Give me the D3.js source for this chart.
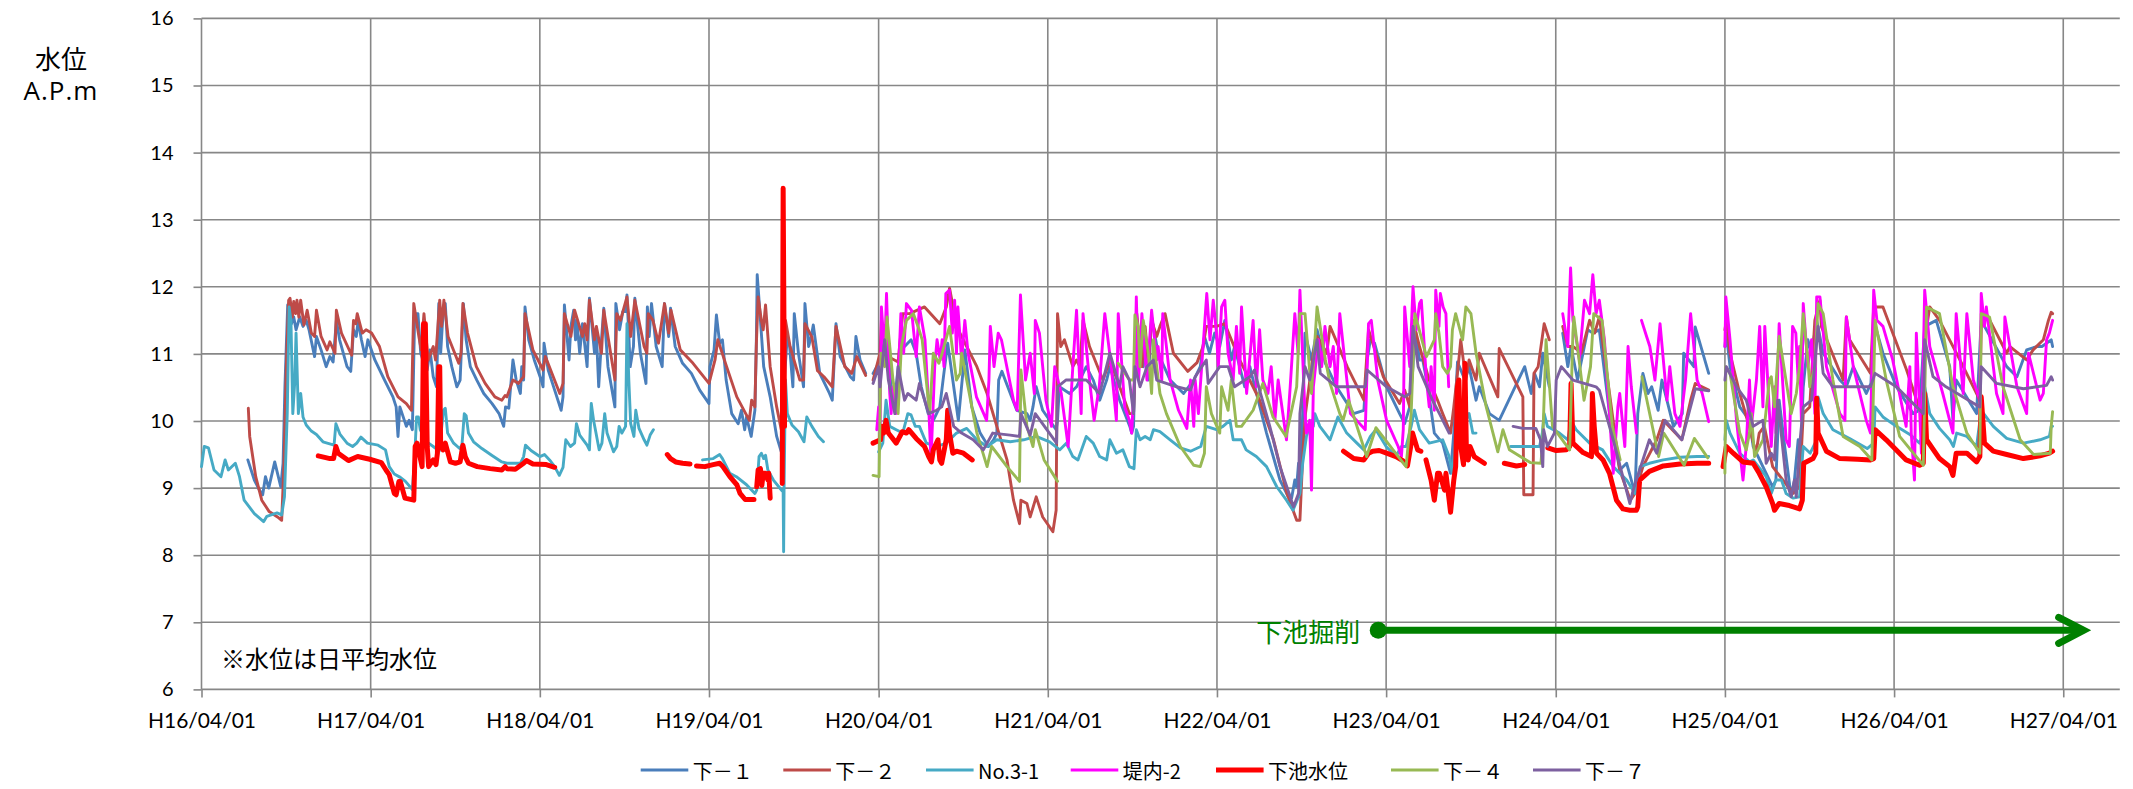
<!DOCTYPE html>
<html><head><meta charset="utf-8">
<script src="https://cdn.jsdelivr.net/npm/d3@7"></script>
<style>body{margin:0;background:#fff}svg{display:block}</style>
</head><body>
<svg id="c" width="2133" height="789"></svg>
<script>
// ---------- data ----------
const yearTicks = ["2004-04-01","2005-04-01","2006-04-01","2007-04-01","2008-04-01","2009-04-01","2010-04-01","2011-04-01","2012-04-01","2013-04-01","2014-04-01","2015-04-01"];
const tickLabels = ["H16/04/01","H17/04/01","H18/04/01","H19/04/01","H20/04/01","H21/04/01","H22/04/01","H23/04/01","H24/04/01","H25/04/01","H26/04/01","H27/04/01"];
const yTicks = [6,7,8,9,10,11,12,13,14,15,16];
const seriesNames = ["下－１","下－２","No.3-1","堤内-2","下池水位","下－４","下－７"];
const seriesColors = ["#4A7EBB","#BE4B48","#46AAC5","#FF00FF","#FF0000","#98B954","#7D60A0"];
const annotationText = "※水位は日平均水位";
const excavationLabel = "下池掘削";
const excavationStart = "2011-03-15", excavationEnd = "2015-05-15", excavationLevel = 6.88;

const s1 = [["2004-07-10",9.42],["2004-07-24",9.12],["2004-08-04",8.97],["2004-08-11",8.9],["2004-08-17",9.17],["2004-08-24",9.0],["2004-09-06",9.39],["2004-09-19",9.02],["2004-09-24",9.37],["2004-09-28",10.51],["2004-10-04",11.73],["2004-10-08",11.7],["2004-10-12",11.45],["2004-10-17",11.55],["2004-10-22",11.36],["2004-10-30",11.55],["2004-11-06",11.41],["2004-11-13",11.5],["2004-11-19",11.36],["2004-12-01",10.96],["2004-12-05",11.26],["2004-12-15",11.06],["2004-12-26",10.81],["2005-01-03",10.96],["2005-01-10",10.88],["2005-01-17",11.5],["2005-01-24",11.21],["2005-02-09",10.81],["2005-02-17",10.74],["2005-02-23",11.36],["2005-03-01",11.26],["2005-03-05",11.5],["2005-03-12",11.21],["2005-03-20",10.96],["2005-03-26",11.21],["2005-04-10",10.91],["2005-05-01",10.61],["2005-05-19",10.36],["2005-05-26",10.21],["2005-05-30",9.77],["2005-06-03",10.21],["2005-06-17",9.92],["2005-06-23",10.01],["2005-06-30",9.87],["2005-07-05",11.6],["2005-07-12",11.6],["2005-07-18",11.01],["2005-07-27",10.81],["2005-08-01",10.76],["2005-08-07",11.06],["2005-08-14",10.66],["2005-08-21",10.51],["2005-08-26",11.75],["2005-08-30",11.01],["2005-09-05",11.7],["2005-09-09",11.75],["2005-09-14",11.11],["2005-09-23",10.81],["2005-10-04",10.51],["2005-10-11",10.61],["2005-10-18",11.75],["2005-10-24",11.21],["2005-11-02",10.81],["2005-11-16",10.61],["2005-12-01",10.41],["2005-12-19",10.26],["2006-01-03",10.11],["2006-01-13",9.92],["2006-01-17",10.21],["2006-01-24",10.19],["2006-02-02",10.91],["2006-02-09",10.61],["2006-02-18",10.41],["2006-02-21",10.81],["2006-02-25",10.61],["2006-02-28",11.7],["2006-03-08",11.21],["2006-03-20",10.91],["2006-04-04",10.61],["2006-04-08",10.51],["2006-04-10",11.16],["2006-04-19",10.76],["2006-05-03",10.46],["2006-05-17",10.16],["2006-05-21",10.36],["2006-05-24",11.73],["2006-06-03",10.91],["2006-06-07",11.41],["2006-06-13",11.65],["2006-06-17",11.21],["2006-06-20",11.5],["2006-06-26",11.01],["2006-07-02",11.45],["2006-07-12",10.81],["2006-07-17",11.83],["2006-07-28",11.01],["2006-08-01",11.31],["2006-08-06",10.51],["2006-08-12",11.21],["2006-08-17",11.68],["2006-08-26",10.81],["2006-09-10",10.21],["2006-09-12",11.75],["2006-09-20",11.36],["2006-09-27",11.63],["2006-10-03",11.63],["2006-10-06",11.88],["2006-10-13",10.81],["2006-10-20",11.11],["2006-10-23",11.83],["2006-11-04",11.01],["2006-11-16",10.56],["2006-11-19",11.7],["2006-11-23",11.26],["2006-11-28",11.75],["2006-12-08",11.11],["2006-12-21",10.81],["2006-12-26",11.75],["2007-01-04",11.26],["2007-01-08",11.68],["2007-01-18",11.11],["2007-02-03",10.86],["2007-02-22",10.71],["2007-03-12",10.46],["2007-04-01",10.26],["2007-04-03",10.81],["2007-04-12",11.06],["2007-04-17",11.58],["2007-04-24",11.16],["2007-04-30",11.21],["2007-05-08",10.61],["2007-05-20",10.11],["2007-06-03",9.96],["2007-06-10",10.16],["2007-06-17",9.87],["2007-06-21",10.06],["2007-07-01",9.77],["2007-07-09",10.16],["2007-07-12",11.11],["2007-07-14",12.18],["2007-07-19",11.7],["2007-07-28",10.81],["2007-08-11",10.36],["2007-08-25",9.77],["2007-09-04",9.54],["2007-09-08",9.62],["2007-09-11",10.66],["2007-09-17",11.26],["2007-09-22",11.11],["2007-09-29",10.51],["2007-10-02",11.6],["2007-10-11",11.01],["2007-10-22",10.51],["2007-10-25",11.75],["2007-11-02",11.11],["2007-11-09",11.31],["2007-11-12",11.43],["2007-11-26",10.71],["2007-12-17",10.41],["2007-12-23",10.31],["2007-12-31",11.45],["2008-01-09",10.96],["2008-01-31",10.66],["2008-02-07",10.61],["2008-02-12",11.26],["2008-02-21",10.91],["2008-03-04",10.71],["2008-03-12",null],["2008-03-20",10.71],["2008-04-01",10.86],["2008-04-07",11.01],["2008-04-18",11.31],["2008-04-28",10.51],["2008-05-06",10.31],["2008-05-11",10.66],["2008-05-20",11.21],["2008-05-27",11.11],["2008-06-10",11.21],["2008-06-21",11.01],["2008-07-02",10.51],["2008-07-17",10.11],["2008-07-28",10.01],["2008-08-11",10.21],["2008-08-18",10.61],["2008-08-28",11.16],["2008-09-08",10.61],["2008-09-20",10.01],["2008-10-01",10.81],["2008-10-04",11.06],["2008-10-19",10.21],["2008-11-06",9.82],["2008-11-24",9.62],["2008-12-05",9.72],["2008-12-12",9.82],["2008-12-16",10.61],["2008-12-23",10.74],["2008-12-30",10.61],["2009-01-24",10.16],["2009-02-15",10.11],["2009-02-22",10.01],["2009-02-28",10.21],["2009-03-07",10.51],["2009-03-21",10.16],["2009-04-19",9.87],["2009-04-22",10.01],["2009-04-26",10.51],["2009-05-18",10.41],["2009-06-02",10.51],["2009-06-23",10.81],["2009-07-08",10.61],["2009-07-22",10.31],["2009-08-06",10.61],["2009-08-13",10.81],["2009-09-03",10.31],["2009-09-25",9.92],["2009-09-29",9.82],["2009-10-03",9.92],["2009-10-09",11.6],["2009-10-17",10.91],["2009-10-24",10.81],["2009-10-28",11.11],["2009-11-04",10.61],["2009-11-11",11.55],["2009-11-25",11.01],["2009-12-21",10.61],["2010-01-19",10.41],["2010-02-10",10.61],["2010-02-24",10.81],["2010-03-05",11.26],["2010-03-16",11.01],["2010-03-27",11.31],["2010-04-07",11.11],["2010-04-18",11.5],["2010-05-02",10.91],["2010-05-09",11.11],["2010-05-31",10.51],["2010-06-11",10.81],["2010-06-18",10.61],["2010-07-17",9.82],["2010-08-15",9.12],["2010-09-02",8.87],["2010-09-09",8.85],["2010-09-16",9.12],["2010-09-20",9.02],["2010-09-24",9.37],["2010-09-27",8.87],["2010-10-03",10.11],["2010-10-08",11.31],["2010-10-22",10.91],["2010-11-03",11.36],["2010-11-21",10.86],["2010-12-15",10.51],["2011-01-21",10.11],["2011-02-12",10.16],["2011-02-19",10.91],["2011-02-26",11.21],["2011-03-07",11.16],["2011-04-02",10.51],["2011-04-30",10.11],["2011-05-11",9.96],["2011-05-22",10.21],["2011-05-29",10.81],["2011-06-02",11.41],["2011-06-12",10.91],["2011-06-19",10.91],["2011-06-30",10.51],["2011-07-14",9.82],["2011-08-01",9.67],["2011-08-18",9.22],["2011-08-25",9.82],["2011-09-02",10.88],["2011-09-18",10.61],["2011-09-27",10.81],["2011-10-12",10.31],["2011-10-19",10.51],["2011-11-10",10.11],["2011-12-01",10.01],["2012-01-25",10.81],["2012-02-08",10.41],["2012-02-15",10.71],["2012-02-26",10.51],["2012-03-04",11.01],["2012-03-18",10.51],["2012-04-02",null],["2012-04-16",11.31],["2012-04-27",10.81],["2012-05-04",11.11],["2012-05-18",10.61],["2012-06-09",11.36],["2012-06-20",11.31],["2012-07-04",11.36],["2012-07-26",10.11],["2012-08-17",9.27],["2012-09-01",9.37],["2012-09-19",8.92],["2012-09-25",10.11],["2012-10-06",10.71],["2012-10-17",10.41],["2012-10-25",10.51],["2012-11-08",10.16],["2012-11-16",10.61],["2012-12-11",9.92],["2012-12-30",10.11],["2013-01-02",11.01],["2013-01-24",10.81],["2013-01-27",11.4],["2013-02-25",10.71],["2013-03-10",null],["2013-04-01",11.11],["2013-04-04",11.31],["2013-04-12",10.81],["2013-05-03",10.21],["2013-05-24",10.01],["2013-06-01",9.62],["2013-07-13",9.02],["2013-07-20",9.12],["2013-07-27",10.31],["2013-08-08",9.62],["2013-08-22",8.87],["2013-08-29",9.12],["2013-09-06",9.72],["2013-09-11",9.42],["2013-09-17",10.51],["2013-09-27",11.21],["2013-10-05",11.01],["2013-10-16",11.5],["2013-10-30",11.01],["2013-12-05",10.61],["2013-12-19",10.51],["2014-01-03",10.81],["2014-01-31",10.41],["2014-02-10",10.56],["2014-02-16",11.5],["2014-03-08",11.01],["2014-04-06",10.51],["2014-05-12",10.11],["2014-05-26",10.16],["2014-06-06",11.41],["2014-07-01",11.5],["2014-07-30",10.81],["2014-08-06",10.01],["2014-08-13",10.61],["2014-09-26",10.11],["2014-10-06",11.5],["2014-11-30",10.81],["2014-12-22",10.66],["2015-01-12",11.06],["2015-02-03",11.11],["2015-02-14",11.11],["2015-03-06",11.21],["2015-03-09",11.11]];

const s2 = [["2004-07-11",10.19],["2004-07-14",9.77],["2004-07-27",9.17],["2004-08-09",8.82],["2004-08-25",8.65],["2004-09-12",8.57],["2004-09-21",8.52],["2004-09-26",9.37],["2004-10-01",10.81],["2004-10-06",11.8],["2004-10-09",11.83],["2004-10-14",11.55],["2004-10-17",11.78],["2004-10-21",11.6],["2004-10-24",11.8],["2004-10-28",11.55],["2004-11-01",11.8],["2004-11-08",11.43],["2004-11-15",11.65],["2004-11-24",11.31],["2004-12-01",11.26],["2004-12-05",11.65],["2004-12-15",11.26],["2004-12-28",11.06],["2005-01-03",11.18],["2005-01-14",11.01],["2005-01-17",11.65],["2005-01-28",11.31],["2005-02-19",10.98],["2005-02-23",11.5],["2005-02-28",11.45],["2005-03-03",11.6],["2005-03-14",11.31],["2005-03-22",11.36],["2005-04-03",11.31],["2005-04-20",11.11],["2005-05-08",10.66],["2005-05-30",10.36],["2005-06-17",10.26],["2005-06-28",10.16],["2005-07-03",11.75],["2005-07-14",11.26],["2005-07-19",11.06],["2005-07-25",11.6],["2005-08-03",10.91],["2005-08-14",11.11],["2005-08-19",10.91],["2005-08-25",11.5],["2005-08-28",11.8],["2005-09-01",11.41],["2005-09-06",11.8],["2005-09-15",11.26],["2005-10-08",10.86],["2005-10-13",11.01],["2005-10-17",11.75],["2005-10-27",11.31],["2005-11-15",10.81],["2005-12-04",10.56],["2005-12-25",10.36],["2006-01-09",10.31],["2006-01-16",10.38],["2006-01-20",10.36],["2006-02-02",10.61],["2006-02-14",10.56],["2006-02-25",10.66],["2006-02-28",11.6],["2006-03-17",11.06],["2006-04-08",10.76],["2006-04-13",10.96],["2006-05-14",10.41],["2006-05-21",10.56],["2006-05-24",11.6],["2006-06-07",11.26],["2006-06-15",11.65],["2006-07-02",11.26],["2006-07-07",11.45],["2006-07-12",11.21],["2006-07-17",11.8],["2006-07-28",11.21],["2006-08-01",11.41],["2006-08-12",11.01],["2006-08-17",11.65],["2006-09-10",10.61],["2006-09-14",11.6],["2006-09-22",11.5],["2006-10-06",11.85],["2006-10-14",11.26],["2006-10-23",11.8],["2006-11-12",11.11],["2006-11-18",11.01],["2006-11-21",11.6],["2006-12-01",11.5],["2006-12-13",11.16],["2006-12-26",11.75],["2007-01-04",11.31],["2007-01-09",11.65],["2007-01-29",11.06],["2007-02-23",10.88],["2007-04-01",10.56],["2007-04-14",10.91],["2007-04-20",11.21],["2007-05-09",10.81],["2007-05-31",10.36],["2007-06-27",10.01],["2007-07-02",10.31],["2007-07-09",10.21],["2007-07-12",11.11],["2007-07-16",11.85],["2007-07-23",11.5],["2007-07-27",11.36],["2007-08-01",11.73],["2007-08-11",10.81],["2007-08-25",10.21],["2007-09-04",9.87],["2007-09-08",9.96],["2007-09-13",11.5],["2007-09-23",11.11],["2007-10-14",10.61],["2007-10-22",10.61],["2007-10-25",11.45],["2007-11-09",11.25],["2007-11-21",10.75],["2007-12-05",10.66],["2007-12-23",10.51],["2007-12-31",11.41],["2008-01-19",10.81],["2008-02-03",10.71],["2008-02-14",10.96],["2008-03-04",10.68],["2008-03-12",null],["2008-03-20",10.61],["2008-04-04",11.01],["2008-04-07",11.5],["2008-04-21",10.96],["2008-05-13",10.88],["2008-05-23",11.6],["2008-06-07",11.6],["2008-07-09",11.7],["2008-08-11",11.45],["2008-08-25",11.7],["2008-09-01",11.98],["2008-09-06",11.8],["2008-09-16",11.41],["2008-10-08",11.11],["2008-10-30",10.81],["2008-11-21",10.41],["2008-12-12",9.92],["2009-01-03",9.42],["2009-01-17",8.82],["2009-01-30",8.47],["2009-02-02",8.82],["2009-02-15",8.77],["2009-02-22",8.57],["2009-03-07",8.87],["2009-03-21",8.57],["2009-04-12",8.35],["2009-04-19",8.67],["2009-04-22",11.6],["2009-04-29",11.11],["2009-05-07",11.21],["2009-05-25",10.81],["2009-06-02",10.91],["2009-06-09",10.81],["2009-06-16",11.5],["2009-06-30",11.11],["2009-07-29",10.61],["2009-08-13",10.91],["2009-09-24",10.11],["2009-10-03",10.11],["2009-10-10",11.6],["2009-10-21",10.81],["2009-10-28",11.41],["2009-11-04",10.86],["2009-11-11",11.5],["2009-11-22",11.26],["2009-11-29",11.41],["2009-12-10",11.6],["2009-12-28",11.01],["2010-01-28",10.74],["2010-02-17",10.87],["2010-03-02",11.11],["2010-03-09",11.41],["2010-03-31",11.41],["2010-04-18",11.45],["2010-05-20",10.91],["2010-07-02",10.31],["2010-08-01",9.72],["2010-08-30",8.92],["2010-09-20",8.52],["2010-09-27",8.52],["2010-10-04",9.62],["2010-10-09",10.11],["2010-10-26",11.01],["2010-11-03",11.26],["2010-11-24",11.01],["2010-12-01",11.41],["2011-01-07",10.81],["2011-02-12",10.31],["2011-02-22",11.36],["2011-03-26",10.66],["2011-04-30",10.26],["2011-05-11",10.46],["2011-05-22",10.21],["2011-05-29",11.5],["2011-06-12",11.11],["2011-07-03",10.61],["2011-07-21",10.31],["2011-08-01",10.11],["2011-08-18",9.82],["2011-08-25",10.21],["2011-09-02",10.71],["2011-09-09",11.21],["2011-09-20",10.61],["2011-09-27",10.91],["2011-10-12",10.61],["2011-10-19",11.01],["2011-11-28",10.36],["2011-12-01",11.08],["2012-01-21",10.36],["2012-01-23",8.9],["2012-02-12",8.9],["2012-02-14",10.71],["2012-02-23",10.81],["2012-03-07",11.45],["2012-03-18",11.21],["2012-04-02",null],["2012-04-16",11.41],["2012-04-27",11.11],["2012-05-08",11.11],["2012-05-18",11.06],["2012-05-26",11.01],["2012-06-13",11.5],["2012-06-24",11.31],["2012-07-04",11.55],["2012-07-26",10.41],["2012-08-17",9.27],["2012-09-09",8.82],["2012-09-19",8.92],["2012-10-06",9.32],["2012-11-05",9.72],["2012-11-19",10.01],["2012-12-29",9.72],["2013-01-17",10.31],["2013-01-27",10.56],["2013-02-25",10.46],["2013-03-10",null],["2013-04-01",11.36],["2013-04-04",11.5],["2013-04-12",11.01],["2013-05-03",10.41],["2013-05-24",9.9],["2013-06-07",9.52],["2013-06-14",9.82],["2013-06-25",9.92],["2013-07-13",9.32],["2013-08-26",8.92],["2013-09-09",9.02],["2013-09-17",10.11],["2013-10-01",10.21],["2013-10-12",11.5],["2013-10-23",11.8],["2013-10-26",11.41],["2013-12-12",10.61],["2013-12-19",11.55],["2013-12-26",11.21],["2014-02-09",10.71],["2014-02-16",11.7],["2014-03-08",11.7],["2014-04-28",10.76],["2014-06-03",10.01],["2014-06-06",11.21],["2014-06-17",11.7],["2014-07-08",11.5],["2014-08-21",10.91],["2014-10-03",10.31],["2014-10-06",11.41],["2014-10-17",11.6],["2014-11-30",11.01],["2014-12-07",11.11],["2015-01-12",10.91],["2015-01-26",11.06],["2015-02-17",11.21],["2015-02-28",11.5],["2015-03-06",11.62],["2015-03-09",11.6]];

const s3 = [["2004-04-01",9.32],["2004-04-07",9.62],["2004-04-16",9.6],["2004-04-28",9.27],["2004-05-13",9.17],["2004-05-22",9.42],["2004-05-29",9.27],["2004-06-13",9.37],["2004-06-22",9.17],["2004-07-02",8.82],["2004-07-24",8.62],["2004-08-13",8.5],["2004-08-20",8.58],["2004-09-11",8.63],["2004-09-21",8.6],["2004-09-27",8.87],["2004-10-03",10.11],["2004-10-07",11.7],["2004-10-11",11.5],["2004-10-15",10.11],["2004-10-19",10.56],["2004-10-22",11.31],["2004-10-27",10.11],["2004-11-01",10.41],["2004-11-06",10.06],["2004-11-13",9.94],["2004-11-24",9.85],["2004-12-05",9.8],["2004-12-19",9.69],["2005-01-12",9.64],["2005-01-16",9.96],["2005-01-25",9.8],["2005-02-09",9.67],["2005-02-21",9.62],["2005-03-02",9.67],["2005-03-11",9.76],["2005-03-25",9.67],["2005-04-17",9.64],["2005-05-03",9.57],["2005-05-11",9.32],["2005-05-22",9.21],["2005-06-04",9.16],["2005-06-15",9.1],["2005-06-30",8.98],["2005-07-05",9.47],["2005-07-09",10.06],["2005-07-13",10.06],["2005-07-17",9.87],["2005-07-31",9.69],["2005-08-14",9.62],["2005-08-27",9.55],["2005-09-05",10.16],["2005-09-09",10.19],["2005-09-14",9.82],["2005-09-27",9.67],["2005-10-10",9.59],["2005-10-15",9.64],["2005-10-20",10.11],["2005-10-24",10.08],["2005-10-29",9.82],["2005-11-09",9.69],["2005-11-27",9.59],["2005-12-18",9.49],["2006-01-09",9.39],["2006-01-20",9.37],["2006-02-18",9.37],["2006-02-25",9.47],["2006-03-01",9.64],["2006-03-13",9.56],["2006-04-01",9.47],["2006-04-11",9.5],["2006-04-22",9.42],["2006-05-03",9.32],["2006-05-13",9.19],["2006-05-21",9.31],["2006-05-27",9.72],["2006-06-06",9.62],["2006-06-15",9.67],["2006-06-19",9.96],["2006-06-26",9.79],["2006-07-12",9.64],["2006-07-17",9.57],["2006-07-21",10.26],["2006-07-26",10.01],["2006-08-07",9.57],["2006-08-13",9.67],["2006-08-19",10.11],["2006-08-24",9.82],["2006-09-07",9.54],["2006-09-14",9.62],["2006-09-19",9.92],["2006-09-25",9.82],["2006-10-03",9.92],["2006-10-06",11.45],["2006-10-10",10.61],["2006-10-14",9.96],["2006-10-21",9.77],["2006-10-25",10.16],["2006-11-01",9.89],["2006-11-12",9.72],["2006-11-18",9.64],["2006-11-25",9.79],["2006-12-02",9.87],["2007-01-15",null],["2007-03-18",9.42],["2007-04-10",9.44],["2007-04-24",9.5],["2007-04-30",9.44],["2007-05-16",9.22],["2007-05-30",9.17],["2007-06-21",9.05],["2007-07-09",8.92],["2007-07-13",8.97],["2007-07-18",9.47],["2007-07-23",9.52],["2007-07-28",9.44],["2007-08-01",9.49],["2007-08-06",9.27],["2007-08-18",9.12],["2007-09-02",8.99],["2007-09-08",8.94],["2007-09-09",8.05],["2007-09-10",9.02],["2007-09-13",10.61],["2007-09-17",10.11],["2007-09-27",9.94],["2007-10-11",9.84],["2007-10-23",9.69],["2007-10-29",10.06],["2007-11-09",9.92],["2007-11-23",9.77],["2007-12-04",9.69],["2008-02-01",null],["2008-04-01",9.54],["2008-04-10",9.67],["2008-04-17",10.31],["2008-04-25",9.92],["2008-05-09",9.87],["2008-05-23",9.82],["2008-06-03",10.11],["2008-06-10",10.09],["2008-06-19",9.92],["2008-06-28",9.92],["2008-07-13",9.67],["2008-08-04",9.62],["2008-08-25",9.67],["2008-09-16",9.82],["2008-10-08",9.89],["2008-10-30",9.72],["2008-11-21",9.62],["2008-12-12",9.72],["2009-01-10",9.69],["2009-02-08",9.72],["2009-03-07",9.77],["2009-04-05",9.69],["2009-04-27",9.57],["2009-05-11",9.67],["2009-05-25",9.47],["2009-06-05",9.42],["2009-06-23",9.77],["2009-07-08",9.67],["2009-07-22",9.47],["2009-08-06",9.42],["2009-08-13",9.72],["2009-08-27",9.52],["2009-09-10",9.57],["2009-09-24",9.32],["2009-10-04",9.29],["2009-10-09",9.87],["2009-10-17",9.72],["2009-10-28",9.77],["2009-11-08",9.72],["2009-11-15",9.87],["2009-11-29",9.84],["2009-12-21",9.72],["2010-01-12",9.6],["2010-02-03",9.55],["2010-02-25",9.62],["2010-03-09",9.92],["2010-03-31",9.87],["2010-04-14",9.92],["2010-04-29",10.01],["2010-05-06",9.72],["2010-05-24",9.72],["2010-06-03",9.57],["2010-06-25",9.47],["2010-07-17",9.32],["2010-08-08",9.02],["2010-08-29",8.82],["2010-09-12",8.67],["2010-09-27",8.92],["2010-10-03",9.37],["2010-10-11",9.77],["2010-10-22",10.01],["2010-10-26",9.92],["2010-10-29",10.11],["2010-11-09",9.92],["2010-12-01",9.72],["2010-12-18",10.06],["2011-01-06",9.82],["2011-01-28",9.67],["2011-02-12",9.57],["2011-02-26",9.77],["2011-03-10",9.87],["2011-04-01",9.62],["2011-04-22",9.47],["2011-05-04",9.62],["2011-05-14",9.62],["2011-05-25",9.92],["2011-06-01",10.16],["2011-06-12",9.87],["2011-07-03",9.67],["2011-08-01",9.72],["2011-08-15",9.47],["2011-08-22",9.22],["2011-08-29",9.72],["2011-09-06",9.92],["2011-09-13",9.72],["2011-09-20",10.01],["2011-09-27",10.11],["2011-10-05",9.82],["2011-10-12",9.82],["2011-11-15",null],["2011-12-26",9.62],["2012-02-05",9.62],["2012-02-26",9.62],["2012-03-03",9.82],["2012-03-07",10.11],["2012-03-14",9.92],["2012-04-09",9.82],["2012-04-27",9.72],["2012-05-04",10.01],["2012-05-15",9.87],["2012-06-13",9.67],["2012-07-11",9.57],["2012-08-03",9.32],["2012-09-01",9.12],["2012-09-19",8.92],["2012-09-22",9.02],["2012-09-30",9.32],["2012-10-20",9.37],["2012-11-19",9.42],["2012-12-25",9.46],["2013-01-31",9.47],["2013-02-25",9.47],["2013-03-10",null],["2013-04-01",9.72],["2013-04-04",10.01],["2013-04-12",9.82],["2013-05-03",9.52],["2013-05-24",9.39],["2013-06-01",9.42],["2013-06-29",9.17],["2013-07-10",8.92],["2013-07-20",9.12],["2013-08-01",9.12],["2013-08-11",8.92],["2013-08-26",8.85],["2013-09-09",8.87],["2013-09-17",9.62],["2013-10-02",9.52],["2013-10-16",9.72],["2013-10-19",10.36],["2013-10-30",10.11],["2013-11-20",9.87],["2013-12-26",9.74],["2014-02-02",9.59],["2014-02-16",9.67],["2014-02-19",10.21],["2014-03-08",10.06],["2014-04-06",9.92],["2014-05-05",9.8],["2014-05-26",9.67],["2014-06-03",9.82],["2014-06-06",10.51],["2014-06-17",10.11],["2014-07-08",9.89],["2014-07-30",9.72],["2014-08-07",9.62],["2014-08-14",9.82],["2014-09-05",9.77],["2014-09-26",9.62],["2014-10-06",10.16],["2014-11-01",9.92],["2014-11-30",9.74],["2015-01-05",9.67],["2015-02-10",9.72],["2015-03-02",9.77],["2015-03-06",9.92],["2015-03-09",9.92]];

const s4 = [["2008-03-28",9.87],["2008-04-01",10.21],["2008-04-04",9.82],["2008-04-07",11.7],["2008-04-14",11.01],["2008-04-18",11.9],["2008-04-25",10.41],["2008-04-28",10.11],["2008-05-02",10.51],["2008-05-08",10.11],["2008-05-13",10.61],["2008-05-19",11.6],["2008-05-25",11.01],["2008-05-31",11.75],["2008-06-11",11.65],["2008-06-21",10.96],["2008-06-28",11.7],["2008-07-10",11.21],["2008-07-18",10.21],["2008-07-23",9.42],["2008-07-31",10.81],["2008-08-05",11.21],["2008-08-12",10.91],["2008-08-16",11.21],["2008-08-20",10.81],["2008-08-24",11.9],["2008-09-01",11.95],["2008-09-07",11.31],["2008-09-12",11.8],["2008-09-16",11.01],["2008-09-19",11.7],["2008-09-27",10.91],["2008-10-04",11.5],["2008-10-11",11.01],["2008-10-29",10.36],["2008-11-20",10.01],["2008-11-25",10.61],["2008-11-28",11.41],["2008-12-06",10.81],["2008-12-15",11.31],["2008-12-22",11.21],["2009-01-17",10.31],["2009-01-25",10.16],["2009-02-01",11.88],["2009-02-12",10.61],["2009-02-22",11.01],["2009-03-03",10.41],["2009-03-05",11.5],["2009-03-14",11.31],["2009-03-28",10.31],["2009-04-09",9.92],["2009-04-16",10.81],["2009-04-30",10.41],["2009-05-15",9.62],["2009-05-25",10.81],["2009-06-02",11.65],["2009-06-12",10.11],["2009-06-16",11.6],["2009-06-30",10.61],["2009-07-10",10.01],["2009-07-21",10.51],["2009-08-02",11.6],["2009-08-16",10.81],["2009-08-27",10.01],["2009-08-31",11.6],["2009-09-14",10.21],["2009-09-24",10.01],["2009-09-29",9.82],["2009-10-06",10.81],["2009-10-09",11.85],["2009-10-14",10.61],["2009-10-21",11.6],["2009-11-01",10.61],["2009-11-11",11.65],["2009-11-22",10.91],["2009-11-25",11.11],["2009-12-03",10.61],["2009-12-05",11.6],["2009-12-21",10.61],["2010-01-08",10.16],["2010-01-26",9.89],["2010-02-03",10.61],["2010-02-10",9.92],["2010-02-13",10.61],["2010-02-20",10.11],["2010-02-27",10.81],["2010-03-10",11.9],["2010-03-17",11.21],["2010-03-24",11.8],["2010-03-31",11.31],["2010-04-04",10.81],["2010-04-11",11.7],["2010-04-18",11.8],["2010-04-25",11.01],["2010-05-06",10.61],["2010-05-13",11.41],["2010-05-20",10.71],["2010-05-24",11.7],["2010-06-04",10.41],["2010-06-18",11.5],["2010-06-25",10.51],["2010-07-02",11.36],["2010-07-09",10.61],["2010-07-20",10.41],["2010-07-27",10.81],["2010-08-04",10.01],["2010-08-11",10.61],["2010-08-29",9.72],["2010-09-06",10.51],["2010-09-16",11.6],["2010-09-23",11.01],["2010-09-27",11.95],["2010-10-08",10.11],["2010-10-11",9.82],["2010-10-18",10.01],["2010-10-22",8.97],["2010-10-26",10.51],["2010-11-06",11.21],["2010-11-13",10.81],["2010-11-20",11.41],["2010-12-01",10.81],["2010-12-08",11.11],["2010-12-15",10.41],["2010-12-22",11.6],["2011-01-14",10.11],["2011-02-15",9.87],["2011-02-22",11.45],["2011-02-28",11.5],["2011-03-14",10.61],["2011-04-02",10.01],["2011-04-27",9.62],["2011-05-04",9.47],["2011-05-08",9.87],["2011-05-11",11.7],["2011-05-22",10.81],["2011-05-29",12.0],["2011-06-05",11.36],["2011-06-12",11.75],["2011-06-16",11.8],["2011-06-27",10.61],["2011-07-03",10.21],["2011-07-07",10.81],["2011-07-14",10.16],["2011-07-17",11.95],["2011-07-24",11.41],["2011-07-27",11.9],["2011-08-02",11.7],["2011-08-08",11.6],["2011-08-11",11.01],["2011-08-14",10.51],["2011-09-15",null],["2012-04-16",11.6],["2012-04-27",11.11],["2012-05-03",12.28],["2012-05-08",11.5],["2012-05-18",11.11],["2012-05-22",10.91],["2012-06-02",11.8],["2012-06-13",11.6],["2012-06-20",12.18],["2012-06-27",11.6],["2012-07-04",11.8],["2012-07-15",11.21],["2012-07-26",10.11],["2012-08-03",9.22],["2012-08-13",10.21],["2012-08-17",10.41],["2012-08-28",9.62],["2012-09-04",11.11],["2012-09-11",10.51],["2012-09-22",9.82],["2012-09-28",null],["2012-10-03",11.5],["2012-10-14",11.26],["2012-10-21",11.11],["2012-11-01",10.61],["2012-11-12",11.45],["2012-11-27",10.31],["2012-12-03",10.81],["2012-12-14",10.11],["2012-12-25",9.92],["2013-01-06",10.61],["2013-01-17",11.6],["2013-01-31",10.61],["2013-02-11",10.41],["2013-02-25",9.99],["2013-03-10",null],["2013-04-01",11.11],["2013-04-03",11.85],["2013-04-12",11.21],["2013-04-26",10.01],["2013-05-10",9.12],["2013-05-17",9.62],["2013-05-24",10.61],["2013-05-28",9.92],["2013-06-08",10.61],["2013-06-15",11.41],["2013-06-22",10.21],["2013-06-26",11.41],["2013-07-10",9.62],["2013-07-17",10.51],["2013-07-20",9.82],["2013-07-27",11.45],["2013-08-11",9.72],["2013-08-18",9.62],["2013-08-25",11.41],["2013-09-01",11.31],["2013-09-06",10.61],["2013-09-09",11.11],["2013-09-13",10.01],["2013-09-17",11.75],["2013-09-27",10.81],["2013-10-05",11.21],["2013-10-12",10.11],["2013-10-16",11.85],["2013-10-23",11.85],["2013-11-06",10.81],["2013-12-05",10.11],["2013-12-16",10.01],["2013-12-19",11.55],["2014-01-03",10.81],["2014-01-31",10.01],["2014-02-09",9.82],["2014-02-16",11.95],["2014-02-23",11.5],["2014-03-08",11.41],["2014-03-29",10.91],["2014-04-27",9.92],["2014-05-05",10.81],["2014-05-08",9.82],["2014-05-15",9.12],["2014-05-19",11.31],["2014-05-30",9.52],["2014-06-06",11.95],["2014-06-17",11.11],["2014-07-15",10.41],["2014-08-06",9.82],["2014-08-13",11.6],["2014-08-28",10.41],["2014-09-05",11.6],["2014-09-19",10.61],["2014-10-03",10.31],["2014-10-06",11.9],["2014-10-13",11.41],["2014-10-17",11.7],["2014-11-08",10.41],["2014-11-22",10.11],["2014-11-26",11.55],["2014-12-22",10.51],["2015-01-12",10.11],["2015-01-16",11.01],["2015-02-10",10.31],["2015-02-17",10.41],["2015-02-24",11.21],["2015-03-02",11.31],["2015-03-09",11.5]];

const s5 = [["2004-12-09",9.48],["2005-01-03",9.44],["2005-01-11",9.44],["2005-01-16",9.62],["2005-01-21",9.52],["2005-02-12",9.41],["2005-03-04",9.47],["2005-03-30",9.43],["2005-04-24",9.38],["2005-05-04",9.27],["2005-05-11",9.2],["2005-05-22",8.92],["2005-05-26",8.9],["2005-06-01",9.1],["2005-06-04",9.1],["2005-06-14",8.85],["2005-07-03",8.82],["2005-07-06",9.62],["2005-07-10",9.67],["2005-07-21",9.32],["2005-07-24",11.45],["2005-07-28",11.45],["2005-08-01",9.62],["2005-08-04",9.32],["2005-08-14",9.42],["2005-08-20",9.35],["2005-08-23",9.52],["2005-08-26",10.81],["2005-08-28",10.81],["2005-08-30",9.62],["2005-09-04",9.57],["2005-09-09",9.67],["2005-09-20",9.39],["2005-10-01",9.37],["2005-10-11",9.39],["2005-10-17",9.64],["2005-10-22",9.47],["2005-10-29",9.37],["2005-11-17",9.32],["2005-12-15",9.29],["2006-01-09",9.27],["2006-01-16",9.32],["2006-01-20",9.29],["2006-02-07",9.28],["2006-02-25",9.37],["2006-03-03",9.41],["2006-03-17",9.36],["2006-04-15",9.35],["2006-05-03",9.31],["2006-06-01",null],["2007-01-01",9.5],["2007-01-08",9.44],["2007-01-19",9.39],["2007-02-03",9.37],["2007-02-19",9.36],["2007-02-25",null],["2007-03-05",9.33],["2007-03-23",9.32],["2007-04-10",9.35],["2007-04-24",9.37],["2007-05-01",9.32],["2007-05-16",9.17],["2007-05-31",9.05],["2007-06-07",8.92],["2007-06-18",8.83],["2007-07-07",8.83],["2007-07-10",null],["2007-07-13",9.02],["2007-07-16",9.27],["2007-07-21",9.29],["2007-07-24",9.04],["2007-07-27",9.22],["2007-08-01",9.22],["2007-08-06",9.12],["2007-08-08",9.22],["2007-08-11",8.85],["2007-08-20",null],["2007-09-06",9.07],["2007-09-08",13.47],["2007-09-11",9.92],["2007-12-01",null],["2008-03-20",9.67],["2008-04-05",9.72],["2008-04-09",9.92],["2008-04-12",9.82],["2008-04-17",10.01],["2008-04-22",9.82],["2008-05-09",9.67],["2008-05-22",9.84],["2008-05-31",9.82],["2008-06-05",9.87],["2008-06-21",9.74],["2008-07-09",9.62],["2008-07-18",9.47],["2008-07-24",9.39],["2008-07-28",9.57],["2008-08-07",9.72],["2008-08-11",9.42],["2008-08-15",9.37],["2008-08-22",9.62],["2008-08-25",9.72],["2008-08-28",10.16],["2008-09-01",9.82],["2008-09-08",9.52],["2008-09-16",9.55],["2008-10-01",9.52],["2008-10-20",9.42],["2008-11-01",null],["2010-12-30",9.55],["2011-01-21",9.44],["2011-02-12",9.42],["2011-02-22",9.52],["2011-03-03",9.55],["2011-03-17",9.56],["2011-04-02",9.52],["2011-04-22",9.47],["2011-05-07",9.41],["2011-05-17",9.33],["2011-05-24",9.62],["2011-05-28",9.82],["2011-06-08",9.57],["2011-06-15",9.55],["2011-06-20",null],["2011-06-26",9.42],["2011-07-07",9.12],["2011-07-14",8.82],["2011-07-21",9.22],["2011-07-25",9.22],["2011-08-05",8.97],["2011-08-08",9.22],["2011-08-15",8.82],["2011-08-18",8.64],["2011-08-25",9.12],["2011-08-29",9.32],["2011-09-02",10.51],["2011-09-05",10.61],["2011-09-09",9.62],["2011-09-15",9.35],["2011-09-18",10.86],["2011-09-21",9.62],["2011-09-25",9.42],["2011-09-29",9.62],["2011-10-08",9.47],["2011-10-30",9.37],["2011-11-15",null],["2011-12-12",9.37],["2012-01-07",9.33],["2012-01-25",9.35],["2012-02-20",null],["2012-03-15",9.6],["2012-04-02",9.56],["2012-04-24",9.57],["2012-05-01",9.62],["2012-05-04",10.56],["2012-05-08",9.67],["2012-05-30",9.53],["2012-06-17",9.47],["2012-06-19",10.41],["2012-06-23",9.92],["2012-06-28",9.52],["2012-07-12",9.42],["2012-07-26",9.22],["2012-08-10",8.82],["2012-08-24",8.69],["2012-09-08",8.67],["2012-09-22",8.67],["2012-09-25",8.72],["2012-09-29",9.12],["2012-10-20",9.25],["2012-11-19",9.33],["2012-12-25",9.36],["2013-01-31",9.37],["2013-02-25",9.37],["2013-03-10",null],["2013-03-28",9.32],["2013-04-04",9.62],["2013-04-19",9.52],["2013-05-10",9.39],["2013-06-01",9.37],["2013-06-14",9.22],["2013-06-29",9.02],["2013-07-13",8.77],["2013-07-17",8.67],["2013-07-27",8.77],["2013-08-18",8.74],["2013-09-09",8.69],["2013-09-15",8.82],["2013-09-18",9.37],["2013-10-08",9.44],["2013-10-14",9.52],["2013-10-16",10.34],["2013-10-19",9.82],["2013-11-06",9.55],["2013-12-05",9.44],["2014-01-12",9.43],["2014-02-09",9.42],["2014-02-16",9.44],["2014-02-19",9.87],["2014-03-15",9.72],["2014-04-27",9.42],["2014-05-26",9.34],["2014-06-03",9.37],["2014-06-06",10.41],["2014-06-10",9.72],["2014-07-08",9.44],["2014-07-30",9.32],["2014-08-06",9.19],["2014-08-13",9.52],["2014-09-05",9.52],["2014-09-26",9.39],["2014-10-03",9.47],["2014-10-06",10.36],["2014-10-13",9.67],["2014-11-01",9.55],["2014-11-30",9.5],["2015-01-05",9.44],["2015-02-10",9.48],["2015-03-02",9.52],["2015-03-09",9.55]];

const s6 = [["2008-03-20",9.19],["2008-04-02",9.17],["2008-04-06",11.01],["2008-04-14",10.81],["2008-04-19",11.55],["2008-05-02",10.61],["2008-05-13",10.11],["2008-05-20",11.11],["2008-05-31",11.5],["2008-06-15",11.6],["2008-06-25",11.41],["2008-07-04",11.21],["2008-07-20",10.11],["2008-07-28",11.01],["2008-08-09",10.86],["2008-08-16",11.01],["2008-09-01",11.41],["2008-09-16",10.61],["2008-09-24",10.71],["2008-09-27",11.01],["2008-10-08",10.61],["2008-10-30",9.82],["2008-11-21",9.32],["2008-12-01",9.62],["2009-01-03",9.32],["2009-01-30",9.1],["2009-02-02",10.76],["2009-02-15",9.92],["2009-02-28",9.62],["2009-03-05",9.87],["2009-03-24",9.42],["2009-04-22",9.1],["2009-06-01",null],["2009-08-31",10.86],["2009-09-24",10.61],["2009-10-03",10.61],["2009-10-06",11.58],["2009-10-13",11.41],["2009-10-17",10.81],["2009-10-24",11.5],["2009-11-04",11.01],["2009-11-11",10.41],["2009-11-15",11.21],["2009-11-29",10.41],["2009-12-13",10.11],["2010-01-12",9.62],["2010-02-10",9.34],["2010-02-24",9.32],["2010-03-05",9.52],["2010-03-09",10.51],["2010-03-20",10.11],["2010-04-07",9.82],["2010-04-11",10.51],["2010-04-25",10.16],["2010-05-02",10.61],["2010-05-13",9.92],["2010-05-24",9.92],["2010-06-18",10.16],["2010-07-09",10.56],["2010-07-31",10.06],["2010-08-28",9.77],["2010-09-20",10.51],["2010-09-27",11.6],["2010-10-08",11.6],["2010-10-22",10.41],["2010-11-03",11.7],["2010-11-21",10.91],["2010-12-01",10.56],["2010-12-22",10.11],["2010-12-29",10.01],["2011-01-10",10.31],["2011-02-18",9.47],["2011-03-10",9.9],["2011-04-16",9.57],["2011-05-14",9.32],["2011-05-25",10.11],["2011-06-02",11.6],["2011-06-27",10.96],["2011-07-14",11.21],["2011-07-17",11.6],["2011-07-24",11.31],["2011-08-01",10.81],["2011-08-11",10.71],["2011-08-18",10.81],["2011-08-22",11.36],["2011-08-29",11.6],["2011-09-13",11.21],["2011-09-20",11.7],["2011-10-01",11.6],["2011-10-12",11.01],["2011-11-03",10.21],["2011-11-28",9.54],["2011-12-09",9.87],["2011-12-23",9.57],["2012-02-06",9.38],["2012-02-29",9.37],["2012-03-04",9.72],["2012-03-11",11.21],["2012-03-25",9.92],["2012-05-01",9.57],["2012-05-08",11.31],["2012-05-10",11.55],["2012-06-01",10.31],["2012-06-15",10.81],["2012-06-22",11.6],["2012-07-10",11.5],["2012-08-01",9.92],["2012-08-18",9.42],["2012-09-10",null],["2012-10-04",10.66],["2012-11-09",9.47],["2012-11-20",9.82],["2013-01-03",9.34],["2013-01-25",9.74],["2013-02-23",9.45],["2013-03-10",null],["2013-04-01",9.22],["2013-04-03",10.81],["2013-04-12",10.71],["2013-05-03",9.82],["2013-05-17",9.57],["2013-05-24",9.82],["2013-05-28",10.11],["2013-06-04",9.47],["2013-06-22",9.72],["2013-07-06",10.61],["2013-07-10",10.66],["2013-07-17",10.21],["2013-07-27",11.26],["2013-08-22",10.11],["2013-09-02",10.41],["2013-09-09",10.81],["2013-09-17",11.6],["2013-09-27",10.91],["2013-10-01",10.51],["2013-10-12",10.81],["2013-10-19",11.75],["2013-10-30",11.6],["2013-11-20",10.61],["2013-12-12",9.77],["2014-01-17",9.62],["2014-02-12",9.42],["2014-02-16",10.61],["2014-02-19",11.5],["2014-03-15",10.61],["2014-04-13",9.77],["2014-06-03",9.34],["2014-06-10",11.7],["2014-07-08",11.6],["2014-08-06",10.51],["2014-09-05",9.82],["2014-10-03",9.52],["2014-10-06",11.6],["2014-10-24",11.55],["2014-11-22",10.51],["2014-12-29",9.72],["2015-01-27",9.5],["2015-03-04",9.52],["2015-03-06",9.92],["2015-03-09",10.14]];

const s7 = [["2008-03-20",10.56],["2008-04-01",10.81],["2008-04-04",10.51],["2008-04-14",11.21],["2008-04-22",10.61],["2008-05-06",10.11],["2008-05-13",10.81],["2008-05-27",10.31],["2008-06-03",10.41],["2008-06-21",10.31],["2008-06-28",10.56],["2008-07-18",10.11],["2008-08-04",10.16],["2008-08-15",10.21],["2008-08-25",10.41],["2008-09-10",9.92],["2008-09-27",9.82],["2008-10-22",9.72],["2008-11-13",9.57],["2008-12-03",9.82],["2009-01-10",9.79],["2009-01-30",9.77],["2009-02-02",10.11],["2009-02-22",9.79],["2009-03-05",10.11],["2009-04-20",9.67],["2009-04-22",10.51],["2009-05-10",10.61],["2009-06-02",10.61],["2009-06-23",10.61],["2009-07-22",10.41],["2009-08-13",11.01],["2009-09-03",10.51],["2009-09-10",10.81],["2009-09-24",10.61],["2009-10-03",10.11],["2009-10-06",10.81],["2009-10-17",10.51],["2009-11-01",10.81],["2009-11-15",10.91],["2009-11-22",10.61],["2010-01-04",10.51],["2010-02-03",10.46],["2010-02-13",10.66],["2010-03-09",10.91],["2010-03-13",10.56],["2010-04-07",10.81],["2010-04-25",10.81],["2010-05-09",10.51],["2010-06-11",10.66],["2010-06-21",10.76],["2010-07-02",10.46],["2010-07-24",9.92],["2010-08-15",9.32],["2010-09-06",8.87],["2010-09-13",8.72],["2010-09-24",8.92],["2010-09-27",10.11],["2010-10-08",10.81],["2010-10-18",10.61],["2010-11-03",11.21],["2010-11-10",10.71],["2010-12-15",10.51],["2011-02-15",10.51],["2011-02-19",10.76],["2011-04-02",10.51],["2011-05-11",10.36],["2011-05-22",10.41],["2011-05-29",11.41],["2011-06-09",10.81],["2011-07-10",10.31],["2011-07-25",10.11],["2011-08-15",9.82],["2011-09-20",null],["2011-12-31",9.92],["2012-01-21",9.89],["2012-02-18",9.89],["2012-02-28",9.72],["2012-03-04",9.32],["2012-03-06",9.87],["2012-03-14",9.62],["2012-03-29",9.82],["2012-04-02",10.61],["2012-04-13",10.81],["2012-05-08",10.61],["2012-06-27",10.51],["2012-07-04",10.46],["2012-08-03",9.72],["2012-09-08",8.77],["2012-09-15",8.97],["2012-10-20",9.72],["2012-11-05",9.52],["2012-11-23",10.01],["2012-12-29",9.72],["2013-01-13",10.11],["2013-01-27",10.48],["2013-02-25",10.45],["2013-03-10",null],["2013-04-01",10.61],["2013-04-04",10.81],["2013-04-26",10.51],["2013-05-17",10.31],["2013-06-01",9.92],["2013-06-22",10.01],["2013-06-29",9.37],["2013-07-10",9.52],["2013-07-17",9.42],["2013-07-24",10.31],["2013-08-11",9.12],["2013-08-22",8.87],["2013-08-29",9.12],["2013-09-02",8.87],["2013-09-09",9.62],["2013-09-17",10.21],["2013-10-05",10.31],["2013-10-19",11.41],["2013-10-30",10.71],["2013-11-20",10.51],["2014-02-09",10.51],["2014-02-19",10.71],["2014-04-06",10.51],["2014-06-03",10.11],["2014-06-06",11.21],["2014-06-24",10.66],["2014-07-22",10.51],["2014-10-03",10.21],["2014-10-06",10.81],["2014-11-08",10.56],["2015-01-05",10.48],["2015-02-24",10.53],["2015-03-06",10.66],["2015-03-09",10.61]];

const seriesData = [s1, s2, s3, s4, s5, s6, s7];

// ---------- layout ----------
const W = 2133, H = 789;
const plot = {left: 201.5, right: 2119.8, top: 18.4, bottom: 689.4};
const gridColor = "#878787";
const fontAxis = "Lato, 'Liberation Sans', sans-serif";
const fontJP = "'Noto Sans CJK JP', 'Noto Sans', sans-serif";
const legendX = [640.7, 783.3, 926, 1070.7, 1216, 1391, 1533];
const legendY = 770;

const parse = d3.timeParse("%Y-%m-%d");
const svg = d3.select("#c");
svg.append("rect").attr("width", W).attr("height", H).attr("fill", "#fff");

const x = d3.scaleTime().domain([parse("2004-04-01"), parse("2015-08-01")]).range([plot.left, plot.right]);
const y = d3.scaleLinear().domain([6, 16]).range([plot.bottom, plot.top]);
const yearDates = yearTicks.map(parse);

// grid
const grid = svg.append("g");
grid.selectAll("line.h").data(yTicks).join("line")
  .attr("x1", plot.left).attr("x2", plot.right)
  .attr("y1", d => y(d)).attr("y2", d => y(d))
  .attr("stroke", gridColor).attr("stroke-width", 1.6);
grid.selectAll("line.v").data(yearDates).join("line")
  .attr("x1", d => x(d)).attr("x2", d => x(d))
  .attr("y1", plot.top).attr("y2", plot.bottom)
  .attr("stroke", gridColor).attr("stroke-width", 1.6);

// axes
const yAxis = d3.axisLeft(y).tickValues(yTicks).tickSize(8).tickPadding(20).tickFormat(d3.format("d"));
const gy = svg.append("g").attr("transform", `translate(${plot.left},0)`).call(yAxis);
gy.select(".domain").remove();
gy.selectAll(".tick line").attr("stroke", gridColor).attr("stroke-width", 1.6);
gy.selectAll(".tick text").attr("font-family", fontAxis).attr("font-size", 20).attr("fill", "#000");

const xAxis = d3.axisBottom(x).tickValues(yearDates).tickSize(8).tickPadding(16).tickFormat((d, i) => tickLabels[i]);
const gx = svg.append("g").attr("transform", `translate(0,${plot.bottom})`).call(xAxis);
gx.select(".domain").remove();
gx.selectAll(".tick line").attr("stroke", gridColor).attr("stroke-width", 1.6);
gx.selectAll(".tick text").attr("font-family", fontAxis).attr("font-size", 21).attr("fill", "#000");

// series
const line = d3.line().defined(d => d.v != null).x(d => x(d.date)).y(d => y(d.v));
const gs = svg.append("g");
seriesData.forEach((data, i) => {
  const pts = data.map(([d, v]) => ({date: parse(d), v})).sort((a, b) => a.date - b.date);
  gs.append("path").attr("d", line(pts)).attr("fill", "none")
    .attr("stroke", seriesColors[i]).attr("stroke-width", i === 4 ? 5 : 2.9)
    .attr("stroke-linejoin", "round").attr("stroke-linecap", "round");
});

// y title
svg.append("text").attr("x", 61).attr("y", 57).attr("text-anchor", "middle").attr("dominant-baseline", "central")
  .attr("font-family", fontJP).attr("font-size", 26).attr("fill", "#000").text("水位");
svg.append("text").attr("x", 61).attr("y", 90).attr("text-anchor", "middle").attr("dominant-baseline", "central")
  .attr("font-family", "'Open Sans', sans-serif").attr("font-size", 26).attr("letter-spacing", 1)
  .attr("fill", "#000").text("A.P.m");

// note
svg.append("text").attr("x", 221).attr("y", 657).attr("dominant-baseline", "central")
  .attr("font-family", fontJP).attr("font-size", 24).attr("fill", "#000").text(annotationText);

// excavation arrow
const green = "#008000";
const ax0 = x(parse(excavationStart)), ax1 = x(parse(excavationEnd)), ay = y(excavationLevel);
svg.append("line").attr("x1", ax0).attr("x2", ax1 - 3).attr("y1", ay).attr("y2", ay)
  .attr("stroke", green).attr("stroke-width", 7);
svg.append("path").attr("d", `M${ax1 - 25},${ay - 13} L${ax1},${ay} L${ax1 - 25},${ay + 13}`)
  .attr("fill", "none").attr("stroke", green).attr("stroke-width", 7).attr("stroke-linejoin", "miter").attr("stroke-linecap", "round");
svg.append("circle").attr("cx", ax0).attr("cy", ay).attr("r", 8.5).attr("fill", green);
svg.append("text").attr("x", ax0 - 18).attr("y", ay).attr("text-anchor", "end").attr("dominant-baseline", "central")
  .attr("font-family", fontJP).attr("font-size", 26).attr("fill", green).text(excavationLabel);

// legend
const lg = svg.append("g");
seriesNames.forEach((name, i) => {
  const lx = legendX[i];
  lg.append("line").attr("x1", lx).attr("x2", lx + 47.6).attr("y1", legendY).attr("y2", legendY)
    .attr("stroke", seriesColors[i]).attr("stroke-width", i === 4 ? 5 : 3);
  lg.append("text").attr("x", lx + 52).attr("y", legendY).attr("dominant-baseline", "central")
    .attr("font-family", fontJP).attr("font-size", 20).attr("fill", "#000").text(name);
});
</script>
</body></html>
